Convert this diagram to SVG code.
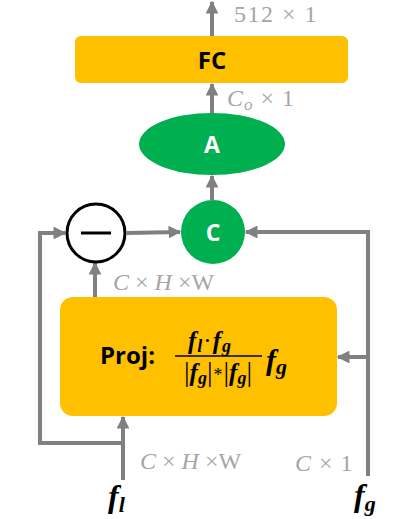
<svg xmlns="http://www.w3.org/2000/svg" width="415" height="519" viewBox="0 0 415 519">
<style>
.box{fill:#FFC000}
.grn{fill:#00B050}
.ln{stroke:#808080;stroke-width:4;fill:none}
.lbl{font-family:"Liberation Serif",serif;font-size:24px;fill:#A6A6A6}
.it{font-style:italic}
.bold{font-family:"Open Sans","Liberation Sans",sans-serif;font-weight:bold}
.math{font-family:"Liberation Serif",serif;font-weight:bold;font-style:italic;fill:#000}
.up{font-style:normal;font-weight:normal;fill:#000}
</style>
<defs>
<marker id="ah" viewBox="0 0 10 10" refX="9" refY="5" markerWidth="3.2" markerHeight="3.2" orient="auto" markerUnits="strokeWidth">
<path d="M0,0 L10,5 L0,10 Z" fill="#808080"/>
</marker>
</defs>
<g id="connectors">
<line class="ln" x1="212" y1="36" x2="212" y2="2" marker-end="url(#ah)"/>
<line class="ln" x1="212" y1="113" x2="212" y2="84" marker-end="url(#ah)"/>
<line class="ln" x1="212" y1="200" x2="212" y2="176" marker-end="url(#ah)"/>
<line class="ln" x1="127" y1="233" x2="180" y2="232" marker-end="url(#ah)"/>
<line class="ln" x1="95" y1="297" x2="95" y2="263" marker-end="url(#ah)"/>
<polyline class="ln" points="123,443 40,443 40,233 65,233" marker-end="url(#ah)"/>
<line class="ln" x1="123" y1="480" x2="123" y2="417" marker-end="url(#ah)"/>
<polyline class="ln" points="368,476 368,232 246,232" marker-end="url(#ah)"/>
<line class="ln" x1="368" y1="357" x2="338" y2="357" marker-end="url(#ah)"/>
</g>
<g id="fc">
<rect class="box" x="75" y="36" width="273" height="47" rx="6"/>
<text class="bold" x="212" y="69" style="font-size:24px" text-anchor="middle">FC</text>
</g>
<g id="a">
<ellipse class="grn" cx="212" cy="144" rx="73" ry="31"/>
<text class="bold" x="212" y="153" style="font-size:23px" fill="#fff" text-anchor="middle">A</text>
</g>
<g id="c">
<circle class="grn" cx="213" cy="232" r="32"/>
<text class="bold" x="213" y="241" style="font-size:23px" fill="#fff" text-anchor="middle">C</text>
</g>
<g id="minus">
<circle cx="96" cy="233" r="29" fill="#fff" stroke="#000" stroke-width="3"/>
<line x1="81" y1="233" x2="111" y2="233" stroke="#000" stroke-width="3"/>
</g>
<g id="proj">
<rect class="box" x="60" y="297" width="277" height="119" rx="13"/>
<text class="bold" x="100" y="364" style="font-size:24px">Proj:</text>
<text class="math" x="210" y="349" style="font-size:25px;letter-spacing:1px" text-anchor="middle">f<tspan style="font-size:18px" dy="3">l</tspan><tspan class="up" dy="-3">·</tspan>f<tspan style="font-size:18px" dy="3">g</tspan></text>
<line x1="175" y1="356" x2="262" y2="356" stroke="#000" stroke-width="1.5"/>
<text class="math" x="218" y="381" style="font-size:25px" text-anchor="middle"><tspan class="up" style="font-size:28px">|</tspan>f<tspan style="font-size:18px" dy="3">g</tspan><tspan class="up" style="font-size:28px" dy="-3">|</tspan><tspan class="up" style="font-size:18px" dx="1">*</tspan><tspan class="up" style="font-size:28px" dx="1">|</tspan>f<tspan style="font-size:18px" dy="3">g</tspan><tspan class="up" style="font-size:28px" dy="-3">|</tspan></text>
<text class="math" x="266" y="370" style="font-size:30px">f<tspan style="font-size:22px" dy="4">g</tspan></text>
</g>
<g id="labels">
<text class="lbl" x="234" y="22" style="letter-spacing:1.5px">512 × 1</text>
<text class="lbl" x="227" y="106" style="letter-spacing:1px"><tspan class="it">C</tspan><tspan class="it" style="font-size:17px" dy="4">o</tspan><tspan dy="-4"> × 1</tspan></text>
<text class="lbl" x="113" y="290"><tspan class="it">C</tspan> × <tspan class="it">H</tspan> ×W</text>
<text class="lbl" x="140" y="469"><tspan class="it">C</tspan> × <tspan class="it">H</tspan> ×W</text>
<text class="lbl" x="295" y="471" style="letter-spacing:1px"><tspan class="it">C</tspan> × 1</text>
<text class="math" x="108" y="507" style="font-size:32px" fill="#333">f<tspan style="font-size:22px" dy="5">l</tspan></text>
<text class="math" x="354" y="506" style="font-size:32px" fill="#333">f<tspan style="font-size:22px" dy="5">g</tspan></text>
</g>
</svg>
